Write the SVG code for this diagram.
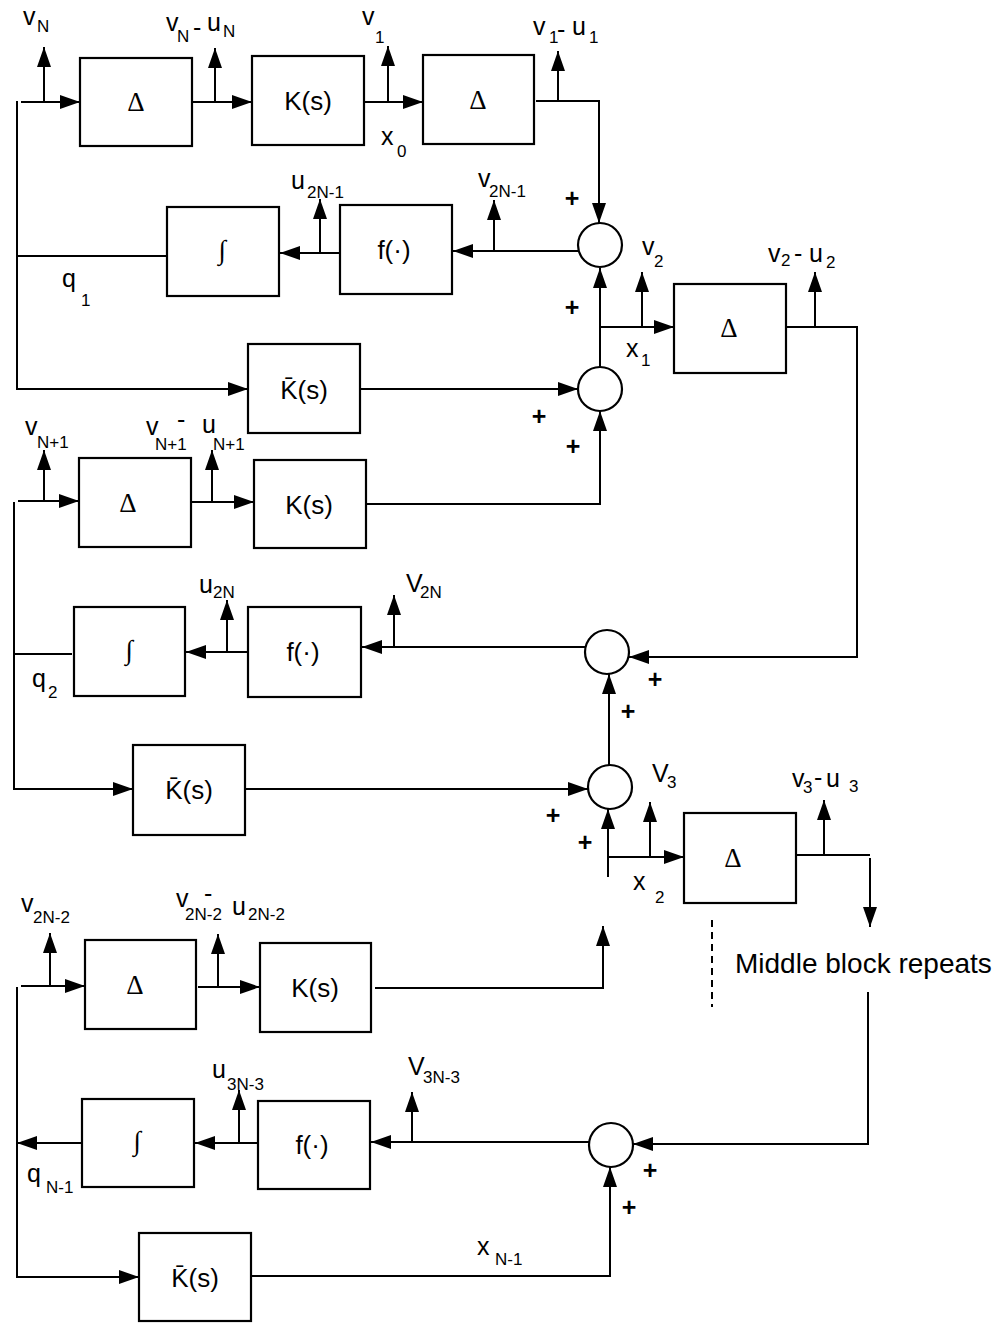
<svg xmlns="http://www.w3.org/2000/svg" width="1003" height="1323" viewBox="0 0 1003 1323">
<defs>
<marker id="ah" markerUnits="userSpaceOnUse" markerWidth="20" markerHeight="14" refX="20" refY="7" orient="auto" viewBox="0 0 20 14"><path d="M0,0 L20,7 L0,14 z" fill="#000"/></marker>
</defs>
<style>
text{font-family:"Liberation Sans",Arial,sans-serif;fill:#000}
.lbl{font-size:25px}
.sub{font-size:17px}
.pl{font-size:25px;font-weight:bold;text-anchor:middle}
.bt{font-size:26px;text-anchor:middle}
.dl{font-family:"Liberation Serif","Times New Roman",serif;font-size:27px;text-anchor:middle}
.box{fill:#fff;stroke:#000;stroke-width:2.2}
.sum{fill:#fff;stroke:#000;stroke-width:2.2}
.w{fill:none;stroke:#000;stroke-width:2}
.a{marker-end:url(#ah)}
.dash{fill:none;stroke:#000;stroke-width:2;stroke-dasharray:7,5}
.mid{font-size:28px}
</style>
<rect width="1003" height="1323" fill="#fff"/>

<g id="connectors">
<!-- top block -->
<path class="w a" d="M17,101 V389 H248"/>
<path class="w a" d="M21,102 H80"/>
<path class="w a" d="M44,102 V47"/>
<path class="w a" d="M192,102 H252"/>
<path class="w a" d="M215,102 V48"/>
<path class="w a" d="M364,102 H423"/>
<path class="w a" d="M388,102 V46"/>
<path class="w a" d="M536,101 H599 V223"/>
<path class="w a" d="M558,101 V51"/>
<path class="w a" d="M578,251 H453"/>
<path class="w a" d="M494,251 V200"/>
<path class="w a" d="M340,253 H280"/>
<path class="w a" d="M320,253 V199"/>
<path class="w" d="M167,256 H17"/>
<path class="w a" d="M360,389 H578"/>
<path class="w a" d="M600,367 V268"/>
<path class="w a" d="M600,327 H674"/>
<path class="w a" d="M642,327 V272"/>
<path class="w a" d="M786,327 H857 V657 H629"/>
<path class="w a" d="M815,327 V272"/>
<!-- second block -->
<path class="w a" d="M14,502 V789 H133"/>
<path class="w a" d="M18,501 H79"/>
<path class="w a" d="M44,501 V450"/>
<path class="w a" d="M192,502 H254"/>
<path class="w a" d="M212,502 V450"/>
<path class="w a" d="M366,504 H600 V411"/>
<path class="w a" d="M585,647 H362"/>
<path class="w a" d="M394,647 V595"/>
<path class="w a" d="M248,652 H186"/>
<path class="w a" d="M227,652 V600"/>
<path class="w" d="M72,654 H14"/>
<path class="w a" d="M245,789 H588"/>
<path class="w a" d="M609,765 V674"/>
<path class="w a" d="M608,877 V809"/>
<path class="w a" d="M608,857 H684"/>
<path class="w a" d="M650,857 V802"/>
<path class="w" d="M796,855 H870"/>
<path class="w a" d="M870,858 V927"/>
<path class="w a" d="M824,855 V800"/>
<path class="dash" d="M712,920 V1007"/>
<path class="w a" d="M868,992 V1144 H633"/>
<!-- bottom block -->
<path class="w a" d="M17,987 V1277 H139"/>
<path class="w a" d="M21,986 H85"/>
<path class="w a" d="M50,986 V933"/>
<path class="w a" d="M198,987 H260"/>
<path class="w a" d="M218,987 V934"/>
<path class="w a" d="M375,988 H603 V926"/>
<path class="w a" d="M589,1142 H371"/>
<path class="w a" d="M412,1142 V1092"/>
<path class="w a" d="M258,1143 H195"/>
<path class="w a" d="M239,1143 V1090"/>
<path class="w a" d="M82,1143 H17"/>
<path class="w a" d="M251,1276 H610 V1167"/>
</g>

<g id="delta1"><rect class="box" x="80" y="58" width="112" height="88"/><text class="dl" x="136" y="111">Δ</text></g>
<g id="k1"><rect class="box" x="252" y="56" width="112" height="89"/><text class="bt" x="308" y="110">K(s)</text></g>
<g id="delta2"><rect class="box" x="423" y="55" width="111" height="89"/><text class="dl" x="478" y="109">Δ</text></g>
<g id="int1"><rect class="box" x="167" y="207" width="112" height="89"/><text class="dl" x="222" y="259">∫</text></g>
<g id="f1"><rect class="box" x="340" y="205" width="112" height="89"/><text class="bt" x="394" y="259">f(·)</text></g>
<g id="kbar1"><rect class="box" x="248" y="344" width="112" height="89"/><text class="bt" x="304" y="399">K̄(s)</text></g>
<g id="delta3"><rect class="box" x="674" y="284" width="112" height="89"/><text class="dl" x="729" y="337">Δ</text></g>
<g id="sum1"><circle class="sum" cx="600" cy="245" r="22"/></g>
<g id="sum2"><circle class="sum" cx="600" cy="389" r="22"/></g>

<g id="delta4"><rect class="box" x="79" y="458" width="112" height="89"/><text class="dl" x="128" y="512">Δ</text></g>
<g id="k2"><rect class="box" x="254" y="460" width="112" height="88"/><text class="bt" x="309" y="514">K(s)</text></g>
<g id="int2"><rect class="box" x="74" y="607" width="111" height="89"/><text class="dl" x="129" y="659">∫</text></g>
<g id="f2"><rect class="box" x="248" y="607" width="113" height="90"/><text class="bt" x="303" y="661">f(·)</text></g>
<g id="kbar2"><rect class="box" x="133" y="745" width="112" height="90"/><text class="bt" x="189" y="799">K̄(s)</text></g>
<g id="delta5"><rect class="box" x="684" y="813" width="112" height="90"/><text class="dl" x="733" y="867">Δ</text></g>
<g id="sum3"><circle class="sum" cx="607" cy="652" r="22"/></g>
<g id="sum4"><circle class="sum" cx="610" cy="787" r="22"/></g>

<g id="delta6"><rect class="box" x="85" y="940" width="111" height="89"/><text class="dl" x="135" y="994">Δ</text></g>
<g id="k3"><rect class="box" x="260" y="943" width="111" height="89"/><text class="bt" x="315" y="997">K(s)</text></g>
<g id="int3"><rect class="box" x="82" y="1099" width="112" height="88"/><text class="dl" x="137" y="1150">∫</text></g>
<g id="f3"><rect class="box" x="258" y="1101" width="112" height="88"/><text class="bt" x="312" y="1154">f(·)</text></g>
<g id="kbar3"><rect class="box" x="139" y="1233" width="112" height="88"/><text class="bt" x="195" y="1287">K̄(s)</text></g>
<g id="sum5"><circle class="sum" cx="611" cy="1145" r="22"/></g>

<g id="labels">
<text class="lbl"><tspan x="23" y="25">v</tspan><tspan class="sub" x="37" y="32">N</tspan></text>
<text class="lbl"><tspan x="166" y="31">v</tspan><tspan class="sub" x="177" y="42">N</tspan></text>
<text class="lbl" x="193" y="36">-</text>
<text class="lbl"><tspan x="207" y="31">u</tspan><tspan class="sub" x="223" y="37">N</tspan></text>
<text class="lbl"><tspan x="362" y="25">v</tspan><tspan class="sub" x="375" y="43">1</tspan></text>
<text class="lbl"><tspan x="533" y="35">v</tspan><tspan class="sub" x="549" y="43">1</tspan></text>
<text class="lbl" x="557" y="38">-</text>
<text class="lbl"><tspan x="572" y="35">u</tspan><tspan class="sub" x="589" y="43">1</tspan></text>
<text class="lbl"><tspan x="381" y="145">x</tspan><tspan class="sub" x="397" y="157">0</tspan></text>
<text class="lbl"><tspan x="291" y="189">u</tspan><tspan class="sub" x="307" y="198">2N-1</tspan></text>
<text class="lbl"><tspan x="478" y="187">v</tspan><tspan class="sub" x="489" y="197">2N-1</tspan></text>
<text class="lbl"><tspan x="642" y="255">v</tspan><tspan class="sub" x="654" y="267">2</tspan></text>
<text class="lbl"><tspan x="626" y="357">x</tspan><tspan class="sub" x="641" y="366">1</tspan></text>
<text class="lbl"><tspan x="768" y="262">v</tspan><tspan class="sub" x="781" y="266">2</tspan></text>
<text class="lbl" x="794" y="262">-</text>
<text class="lbl"><tspan x="809" y="262">u</tspan><tspan class="sub" x="826" y="268">2</tspan></text>
<text class="lbl"><tspan x="62" y="287">q</tspan><tspan class="sub" x="81" y="306">1</tspan></text>
<text class="pl" x="572" y="207">+</text>
<text class="pl" x="572" y="316">+</text>
<text class="pl" x="539" y="425">+</text>
<text class="pl" x="573" y="455">+</text>

<text class="lbl"><tspan x="25" y="435">v</tspan><tspan class="sub" x="37" y="448">N+1</tspan></text>
<text class="lbl"><tspan x="146" y="435">v</tspan><tspan class="sub" x="155" y="450">N+1</tspan></text>
<text class="lbl" x="177" y="428">-</text>
<text class="lbl"><tspan x="202" y="433">u</tspan><tspan class="sub" x="213" y="450">N+1</tspan></text>
<text class="lbl"><tspan x="199" y="593">u</tspan><tspan class="sub" x="213" y="598">2N</tspan></text>
<text class="lbl"><tspan x="406" y="592">V</tspan><tspan class="sub" x="420" y="598">2N</tspan></text>
<text class="lbl"><tspan x="32" y="687">q</tspan><tspan class="sub" x="48" y="698">2</tspan></text>
<text class="pl" x="655" y="688">+</text>
<text class="pl" x="628" y="720">+</text>
<text class="pl" x="553" y="824">+</text>
<text class="pl" x="585" y="851">+</text>
<text class="lbl"><tspan x="652" y="782">V</tspan><tspan class="sub" x="667" y="788">3</tspan></text>
<text class="lbl"><tspan x="633" y="890">x</tspan><tspan class="sub" x="655" y="903">2</tspan></text>
<text class="lbl"><tspan x="792" y="787">v</tspan><tspan class="sub" x="803" y="793">3</tspan></text>
<text class="lbl" x="814" y="786">-</text>
<text class="lbl"><tspan x="826" y="787">u</tspan><tspan class="sub" x="849" y="792">3</tspan></text>
<text class="lbl mid" x="735" y="973">Middle block repeats</text>

<text class="lbl"><tspan x="21" y="912">v</tspan><tspan class="sub" x="33" y="923">2N-2</tspan></text>
<text class="lbl"><tspan x="176" y="907">v</tspan><tspan class="sub" x="185" y="920">2N-2</tspan></text>
<text class="lbl" x="204" y="902">-</text>
<text class="lbl"><tspan x="232" y="915">u</tspan><tspan class="sub" x="248" y="920">2N-2</tspan></text>
<text class="lbl"><tspan x="212" y="1078">u</tspan><tspan class="sub" x="227" y="1090">3N-3</tspan></text>
<text class="lbl"><tspan x="408" y="1075">V</tspan><tspan class="sub" x="423" y="1083">3N-3</tspan></text>
<text class="lbl"><tspan x="27" y="1182">q</tspan><tspan class="sub" x="46" y="1193">N-1</tspan></text>
<text class="pl" x="650" y="1179">+</text>
<text class="pl" x="629" y="1216">+</text>
<text class="lbl"><tspan x="477" y="1255">x</tspan><tspan class="sub" x="495" y="1265">N-1</tspan></text>
</g>
</svg>
